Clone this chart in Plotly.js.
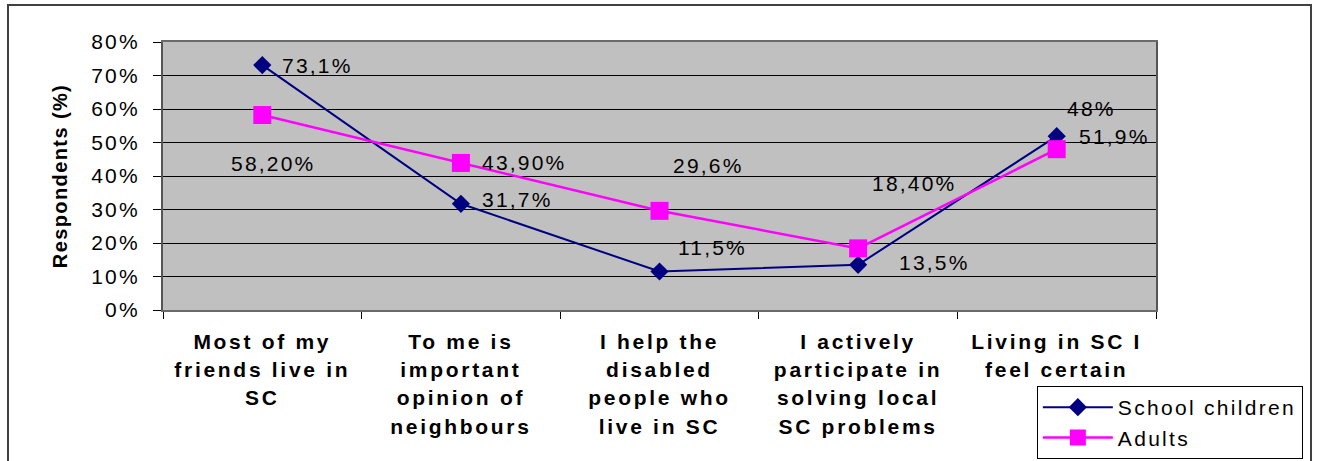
<!DOCTYPE html>
<html>
<head>
<meta charset="utf-8">
<script src="https://cdn.plot.ly/plotly-3.0.1.min.js"></script>
<style>
  html, body { margin: 0; padding: 0; background: #fff; }
  #chart { width: 1317px; height: 461px; }
  svg text { letter-spacing: 2.2px; }
  svg .xtick text { letter-spacing: 2.7px !important; }
  svg .ytitle { letter-spacing: 1.4px !important; }
  svg .legendtext { letter-spacing: 2.3px !important; }
</style>
</head>
<body>
<div id="chart"></div>
<script>
const categories = [
  "Most of my<br>friends live in<br>SC",
  "To me is<br>important<br>opinion of<br>neighbours",
  "I help the<br>disabled<br>people who<br>live in SC",
  "I actively<br>participate in<br>solving local<br>SC problems",
  "Living in SC I<br>feel certain"
];
const schoolChildren = [73.1, 31.7, 11.5, 13.5, 51.9];
const adults = [58.2, 43.9, 29.6, 18.4, 48];
const schoolLabels = ["73,1%", "31,7%", "11,5%", "13,5%", "51,9%"];
const adultLabels = ["58,20%", "43,90%", "29,6%", "18,40%", "48%"];
const seriesNames = ["School children", "Adults"];
const yTitle = "Respondents (%)";

// label offsets (px) relative to each point
const schoolOffsets = [[55, 0], [57, 4], [53, 24], [76, 2], [58, 0]];
const adultOffsets = [[11, -48], [63, 0], [49, 45], [56, 65], [35, 41]];

const FONT = "Liberation Sans, Arial, sans-serif";

const traces = [
  {
    x: categories, y: schoolChildren, name: seriesNames[0],
    type: "scatter", mode: "lines+markers",
    line: { color: "#000080", width: 2 },
    marker: { symbol: "diamond", size: 14, color: "#000080" },
    hoverinfo: "skip"
  },
  {
    x: categories, y: adults, name: seriesNames[1],
    type: "scatter", mode: "lines+markers",
    line: { color: "#FF00FF", width: 2.5 },
    marker: { symbol: "square", size: 18, color: "#FF00FF" },
    hoverinfo: "skip"
  }
];

const annotations = [];
categories.forEach((c, i) => {
  annotations.push({
    x: c, y: schoolChildren[i], xref: "x", yref: "y",
    text: schoolLabels[i], showarrow: false,
    xshift: schoolOffsets[i][0], yshift: schoolOffsets[i][1],
    font: { family: FONT, size: 21, color: "#000" }
  });
  annotations.push({
    x: c, y: adults[i], xref: "x", yref: "y",
    text: adultLabels[i], showarrow: false,
    xshift: adultOffsets[i][0], yshift: adultOffsets[i][1],
    font: { family: FONT, size: 21, color: "#000" }
  });
});

const layout = {
  width: 1317, height: 461,
  margin: { l: 163, r: 161, t: 42, b: 151, pad: 0, autoexpand: false },
  paper_bgcolor: "#ffffff",
  plot_bgcolor: "#C0C0C0",
  font: { family: FONT, size: 21, color: "#000" },
  showlegend: true,
  legend: {
    x: 0.880, y: -0.2836, xanchor: "left", yanchor: "top",
    bgcolor: "#ffffff", bordercolor: "#000000", borderwidth: 1,
    font: { family: FONT, size: 21, color: "#000" },
    itemwidth: 70, tracegroupgap: 0
  },
  xaxis: {
    type: "category",
    range: [-0.5, 4.5],
    tickson: "boundaries",
    tickangle: 0,
    ticks: "outside", ticklen: 7, tickcolor: "#000", tickwidth: 1,
    ticklabelstandoff: 12,
    showgrid: false, zeroline: false,
    showline: true, linecolor: "#6a6a6a", linewidth: 2, mirror: true,
    tickfont: { family: FONT, size: 21, color: "#000", weight: "bold" },
    fixedrange: true
  },
  yaxis: {
    range: [0, 80], dtick: 10, ticksuffix: "%",
    ticks: "outside", ticklen: 8, tickcolor: "#000", tickwidth: 1,
    ticklabelstandoff: 9,
    showgrid: true, gridcolor: "#000000", gridwidth: 1,
    zeroline: false,
    showline: true, linecolor: "#555555", linewidth: 2, mirror: true,
    tickfont: { family: FONT, size: 21, color: "#000" },
    title: { text: yTitle, font: { family: FONT, size: 20, color: "#000", weight: "bold" }, standoff: 18 },
    fixedrange: true
  },
  annotations: annotations,
  shapes: [
    {
      type: "rect", xref: "paper", yref: "paper",
      x0: -0.1561, x1: 1.1561, y0: -0.6, y1: 1.138,
      line: { color: "#404040", width: 2 }, fillcolor: "rgba(0,0,0,0)", layer: "below"
    }
  ]
};

Plotly.newPlot("chart", traces, layout, { displayModeBar: false, staticPlot: true }).then(() => {
  document.querySelectorAll(".xtick text").forEach(t => {
    t.querySelectorAll("tspan.line").forEach((ts, i) => ts.setAttribute("dy", (i * 1.34) + "em"));
  });
});
</script>
</body>
</html>
